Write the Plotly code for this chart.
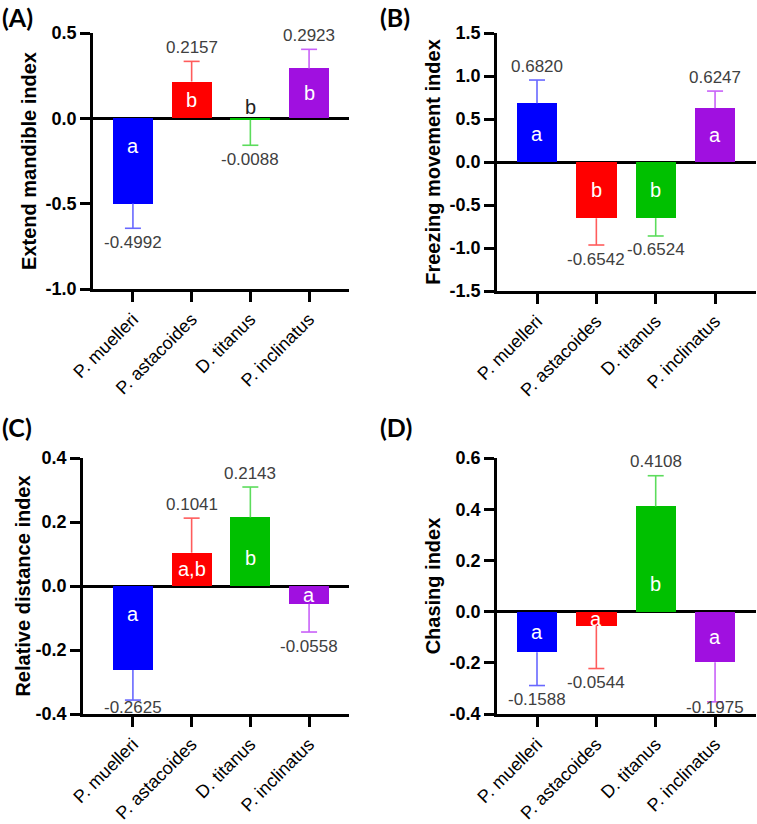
import plotly.graph_objects as go

# ---------------- data ----------------
species = ["P. muelleri", "P. astacoides", "D. titanus", "P. inclinatus"]
bar_colors = ["#0000ff", "#ff0000", "#00c000", "#a010e0"]
err_colors = ["#6868ff", "#ff5c5c", "#5cdc5c", "#c860f8"]

extend_mean = [-0.4992, 0.2157, -0.0088, 0.2923]
extend_se = [0.145, 0.118, 0.149, 0.112]
extend_letters = ["a", "b", "b", "b"]

freeze_mean = [0.6820, -0.6542, -0.6524, 0.6247]
freeze_se = [0.271, 0.311, 0.208, 0.200]
freeze_letters = ["a", "b", "b", "a"]

reldist_mean = [-0.2625, 0.1041, 0.2143, -0.0558]
reldist_se = [0.094, 0.108, 0.095, 0.088]
reldist_letters = ["a", "a,b", "b", "a"]

chase_mean = [-0.1588, -0.0544, 0.4108, -0.1975]
chase_se = [0.130, 0.168, 0.120, 0.155]
chase_letters = ["a", "a", "b", "a"]

panels = [
    dict(tag="(A)", title="Extend mandible index", mean=extend_mean, se=extend_se,
         letters=extend_letters, yrange=[-1.0, 0.5], dtick=0.5),
    dict(tag="(B)", title="Freezing movement index", mean=freeze_mean, se=freeze_se,
         letters=freeze_letters, yrange=[-1.5, 1.5], dtick=0.5),
    dict(tag="(C)", title="Relative distance index", mean=reldist_mean, se=reldist_se,
         letters=reldist_letters, yrange=[-0.4, 0.4], dtick=0.2),
    dict(tag="(D)", title="Chasing index", mean=chase_mean, se=chase_se,
         letters=chase_letters, yrange=[-0.4, 0.6], dtick=0.2),
]

# ---------------- layout geometry (pixels) ----------------
W, H = 757, 824
boxes = [
    (93, 349, 33, 289, [-0.68, 3.68]),
    (497, 756, 33, 291, [-0.674, 3.69]),
    (83, 349, 458, 714, [-0.85, 3.68]),
    (497, 756, 458, 714, [-0.674, 3.69]),
]
standoffs = [4, 4, 0, 4]
tag_pos = [(0, 0), (378, 0), (0, 410), (378, 410)]

FONT = "Arial"
fig = go.Figure()
layout = dict(width=W, height=H, margin=dict(l=0, r=0, t=0, b=0, autoexpand=False),
              plot_bgcolor="white", paper_bgcolor="white", showlegend=False,
              bargap=0, barmode="overlay")
annotations = []

for k, (p, box) in enumerate(zip(panels, boxes)):
    left, right, top, bottom, xr = box
    sfx = "" if k == 0 else str(k + 1)
    xa, ya = "x" + sfx, "y" + sfx
    y0, y1 = p["yrange"]
    ppu = (bottom - top) / (y1 - y0)          # px per y unit
    ppx = (right - left) / (xr[1] - xr[0])    # px per x unit
    cap = 8 / ppx

    for i, (m, s) in enumerate(zip(p["mean"], p["se"])):
        fig.add_trace(go.Bar(
            x=[i], y=[m], width=0.68, marker=dict(color=bar_colors[i], line=dict(width=0)),
            xaxis=xa, yaxis=ya, hoverinfo="skip"))
        end = m + s if m >= 0 else m - s
        # one-sided error bar: stem from bar end + cap
        fig.add_trace(go.Scatter(
            x=[i, i, None, i - cap, i + cap], y=[m, end, None, end, end],
            mode="lines", line=dict(color=err_colors[i], width=1.6),
            xaxis=xa, yaxis=ya, hoverinfo="skip", cliponaxis=False))
        # value label beyond error bar end
        if m >= 0:
            ylab = end + 14 / ppu
        else:
            ylab = max(end - 14 / ppu, y0 + 7 / ppu)
        annotations.append(dict(x=i, y=ylab, xref=xa, yref=ya, text=f"{m:.4f}",
                                showarrow=False, font=dict(family=FONT, size=17, color="#404040"),
                                xanchor="center", yanchor="middle"))
        # significance letter
        hpx = abs(m) * ppu
        if hpx < 5:
            ly = 11 / ppu
            col = "#222222"
        else:
            off = min(hpx / 2, 28)
            ly = off / ppu if m >= 0 else -off / ppu
            col = "white"
        annotations.append(dict(x=i, y=ly, xref=xa, yref=ya, text=p["letters"][i],
                                showarrow=False, font=dict(family=FONT, size=20, color=col),
                                xanchor="center", yanchor="middle"))

    nt = int(round((y1 - y0) / p["dtick"]))
    tv = [round(y0 + j * p["dtick"], 6) for j in range(nt + 1)]
    tt = [f"{v:.1f}" for v in tv]

    layout["xaxis" + sfx] = dict(
        domain=[left / W, right / W], range=xr, anchor=ya, automargin=False,
        tickvals=[0, 1, 2, 3], ticktext=species, tickangle=-45,
        tickfont=dict(family=FONT, size=18, color="black"),
        showline=True, linecolor="black", linewidth=2.5, mirror=False,
        ticks="outside", ticklen=10, tickwidth=2.5, tickcolor="black",
        showgrid=False, zeroline=False, fixedrange=True)
    layout["yaxis" + sfx] = dict(
        domain=[1 - bottom / H, 1 - top / H], range=p["yrange"], anchor=xa, automargin=False,
        tickvals=tv, ticktext=tt,
        tickfont=dict(family=FONT, size=18, color="black", weight="bold"),
        showline=True, linecolor="black", linewidth=2.5,
        ticks="outside", ticklen=10, tickwidth=2.5, tickcolor="black",
        showgrid=False, zeroline=True, zerolinecolor="black", zerolinewidth=2.5,
        title=dict(text=p["title"], font=dict(family=FONT, size=20, color="black", weight="bold"),
                   standoff=standoffs[k]),
        fixedrange=True)

    tx, ty = tag_pos[k]
    annotations.append(dict(x=tx / W, y=1 - ty / H, xref="paper", yref="paper", text=p["tag"],
                            showarrow=False, xanchor="left", yanchor="top",
                            font=dict(family="Lato, Open Sans, sans-serif", size=25, color="black",
                                      weight="bold")))

layout["annotations"] = annotations
fig.update_layout(**layout)
fig.write_html("out.html")
